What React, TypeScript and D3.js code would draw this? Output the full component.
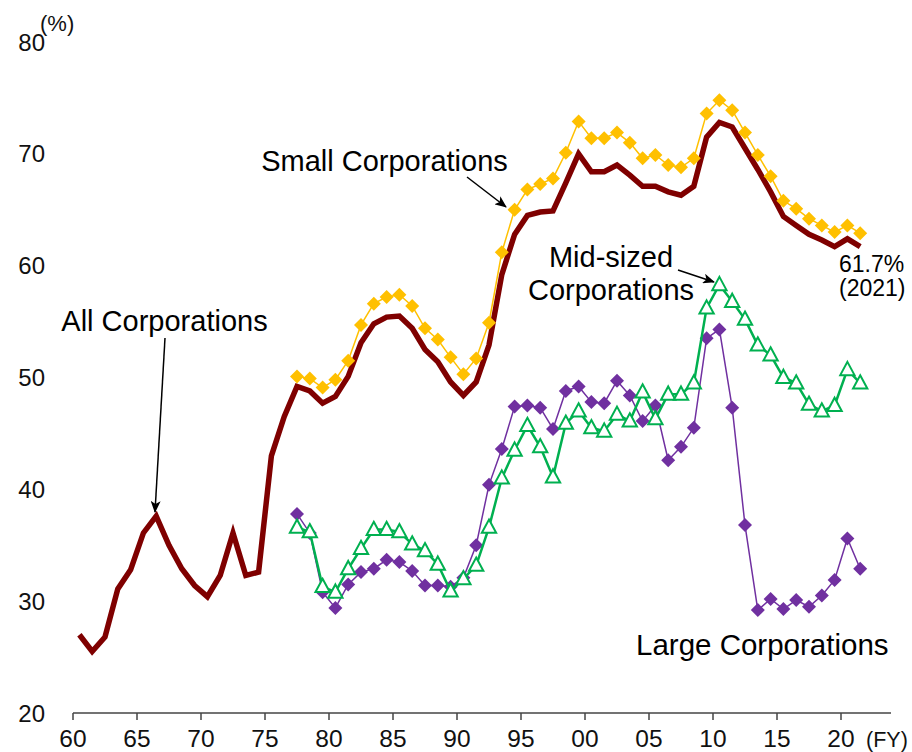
import React from "react";
import * as d3 from "d3";

const allYears = d3.range(1960, 2022);
const allValues = [
  27.0, 25.5, 26.8, 31.1, 32.8, 36.1, 37.6, 35.0, 32.9, 31.4,
  30.4, 32.3, 36.1, 32.3, 32.6, 43.0, 46.5, 49.2, 48.8, 47.7,
  48.3, 50.1, 53.1, 54.8, 55.4, 55.5, 54.4, 52.5, 51.4, 49.6,
  48.4, 49.6, 52.9, 59.2, 62.8, 64.5, 64.8, 64.9, 67.4, 70.0,
  68.4, 68.4, 69.0, 68.1, 67.1, 67.1, 66.6, 66.3, 67.1, 71.5,
  72.8, 72.4, 70.5, 68.6, 66.6, 64.4, 63.6, 62.8, 62.3, 61.7,
  62.4, 61.7,
];

const subYears = d3.range(1977, 2022);
const smallValues = [
  50.1, 49.9, 49.1, 49.8, 51.5, 54.7, 56.6, 57.2, 57.4, 56.4,
  54.4, 53.4, 51.8, 50.3, 51.7, 54.9, 61.2, 65.0, 66.8, 67.3,
  67.8, 70.1, 72.9, 71.4, 71.4, 71.9, 71.0, 69.6, 69.9, 69.0,
  68.8, 69.6, 73.6, 74.8, 73.9, 71.9, 69.9, 68.0, 65.8, 65.1,
  64.2, 63.6, 63.0, 63.6, 62.9,
];
const midValues = [
  36.6, 36.2, 31.3, 30.8, 32.9, 34.7, 36.4, 36.4, 36.2, 35.1,
  34.5, 33.3, 30.9, 32.0, 33.2, 36.6, 41.0, 43.5, 45.7, 43.8,
  41.1, 45.9, 47.0, 45.5, 45.2, 46.7, 46.1, 48.7, 46.3, 48.5,
  48.5, 49.5, 56.2, 58.3, 56.8, 55.2, 52.9, 52.0, 50.0, 49.5,
  47.6, 47.0, 47.5, 50.7, 49.5,
];
const largeValues = [
  37.8, 36.1, 30.8, 29.4, 31.5, 32.6, 32.9, 33.7, 33.5, 32.7,
  31.4, 31.4, 31.3, 32.1, 35.0, 40.4, 43.6, 47.4, 47.5, 47.3,
  45.4, 48.8, 49.2, 47.8, 47.7, 49.7, 48.4, 46.1, 47.5, 42.6,
  43.8, 45.5, 53.5, 54.3, 47.3, 36.8, 29.2, 30.2, 29.3, 30.1,
  29.5, 30.5, 31.9, 35.6, 32.9,
];

const xTicks = [1960, 1965, 1970, 1975, 1980, 1985, 1990, 1995, 2000, 2005, 2010, 2015, 2020];
const yTicks = [20, 30, 40, 50, 60, 70, 80];

const W = 912;
const H = 752;
const FONT = "Liberation Sans, Arial, Helvetica, sans-serif";

const x = d3.scaleLinear().domain([1960, 2020]).range([73, 841]);
const y = d3.scaleLinear().domain([20, 80]).range([713, 42]);

type Pt = { year: number; v: number };
const toPts = (years: number[], vals: number[]): Pt[] =>
  years.map((yr, i) => ({ year: yr, v: vals[i] }));

const line = d3
  .line<Pt>()
  .x((d) => x(d.year + 0.5))
  .y((d) => y(d.v));

const allPts = toPts(allYears, allValues);
const smallPts = toPts(subYears, smallValues);
const midPts = toPts(subYears, midValues);
const largePts = toPts(subYears, largeValues);

const diamond = (cx: number, cy: number, r: number) =>
  `M${cx},${cy - r}L${cx + r},${cy}L${cx},${cy + r}L${cx - r},${cy}Z`;
const triangle = (cx: number, cy: number, s: number) =>
  `M${cx},${cy - s * 0.6}L${cx + s * 0.55},${cy + s * 0.42}L${cx - s * 0.55},${cy + s * 0.42}Z`;

const C_ALL = "#7f0000";
const C_SMALL = "#ffc000";
const C_MID = "#00b050";
const C_LARGE = "#7030a0";

function Arrow({ x1, y1, x2, y2 }: { x1: number; y1: number; x2: number; y2: number }) {
  return (
    <line x1={x1} y1={y1} x2={x2} y2={y2} stroke="#000" strokeWidth={1.5} markerEnd="url(#arrowhead)" />
  );
}

export default function App() {
  const fmt = (yr: number) => String(yr % 100).padStart(2, "0");
  return (
    <svg
      width={W}
      height={H}
      style={{ position: "absolute", left: 0, top: 0, background: "#fff" }}
      fontFamily={FONT}
    >
      <defs>
        <marker
          id="arrowhead"
          viewBox="0 0 12 10"
          refX={11}
          refY={5}
          markerWidth={12}
          markerHeight={10}
          markerUnits="userSpaceOnUse"
          orient="auto"
        >
          <path d="M0,0L12,5L0,10L3,5Z" fill="#000" />
        </marker>
      </defs>
      <rect x={0} y={0} width={W} height={H} fill="#fff" />

      {/* y tick labels */}
      {yTicks.map((t) => (
        <text key={t} x={45} y={y(t) + 8.5} fontSize={24} textAnchor="end" fill="#111">
          {t}
        </text>
      ))}
      <text x={40} y={31} fontSize={22} fill="#111">
        (%)
      </text>

      {/* x axis */}
      <line x1={73} x2={891} y1={713} y2={713} stroke="#444" strokeWidth={1.5} />
      {xTicks.map((t) => (
        <g key={t}>
          <line x1={x(t)} x2={x(t)} y1={713} y2={720} stroke="#444" strokeWidth={1.5} />
          <text x={x(t)} y={747} fontSize={24.5} textAnchor="middle" fill="#111">
            {fmt(t)}
          </text>
        </g>
      ))}
      <text x={866} y={747} fontSize={21.5} fill="#111">
        (FY)
      </text>

      {/* Large corporations */}
      <path d={line(largePts) || ""} fill="none" stroke={C_LARGE} strokeWidth={1.5} />
      {largePts.map((d) => (
        <path key={"l" + d.year} d={diamond(x(d.year + 0.5), y(d.v), 7)} fill={C_LARGE} />
      ))}

      {/* Mid-sized corporations */}
      <path d={line(midPts) || ""} fill="none" stroke={C_MID} strokeWidth={2.5} />
      {midPts.map((d) => (
        <path
          key={"m" + d.year}
          d={triangle(x(d.year + 0.5), y(d.v), 13)}
          fill="#fff"
          stroke={C_MID}
          strokeWidth={2}
        />
      ))}

      {/* All corporations */}
      <path
        d={line(allPts) || ""}
        fill="none"
        stroke={C_ALL}
        strokeWidth={5.5}
        strokeLinejoin="miter"
      />

      {/* Small corporations */}
      <path d={line(smallPts) || ""} fill="none" stroke={C_SMALL} strokeWidth={1.5} />
      {smallPts.map((d) => (
        <path key={"s" + d.year} d={diamond(x(d.year + 0.5), y(d.v), 7)} fill={C_SMALL} />
      ))}

      {/* annotations */}
      <text x={384.5} y={171} fontSize={29} textAnchor="middle" fill="#000">
        Small Corporations
      </text>
      <Arrow x1={467} y1={177} x2={506} y2={207} />

      <text x={164.5} y={331} fontSize={29} textAnchor="middle" fill="#000">
        All Corporations
      </text>
      <Arrow x1={165} y1={338} x2={155} y2={512} />

      <text x={611} y={267} fontSize={29} textAnchor="middle" fill="#000">
        Mid-sized
      </text>
      <text x={611} y={300} fontSize={29} textAnchor="middle" fill="#000">
        Corporations
      </text>
      <Arrow x1={678} y1={270} x2={714} y2={282} />

      <text x={839} y={272} fontSize={23} fill="#000">
        61.7%
      </text>
      <text x={839} y={296} fontSize={23} fill="#000">
        (2021)
      </text>

      <text x={636} y={655} fontSize={29.5} fill="#000">
        Large Corporations
      </text>
    </svg>
  );
}
